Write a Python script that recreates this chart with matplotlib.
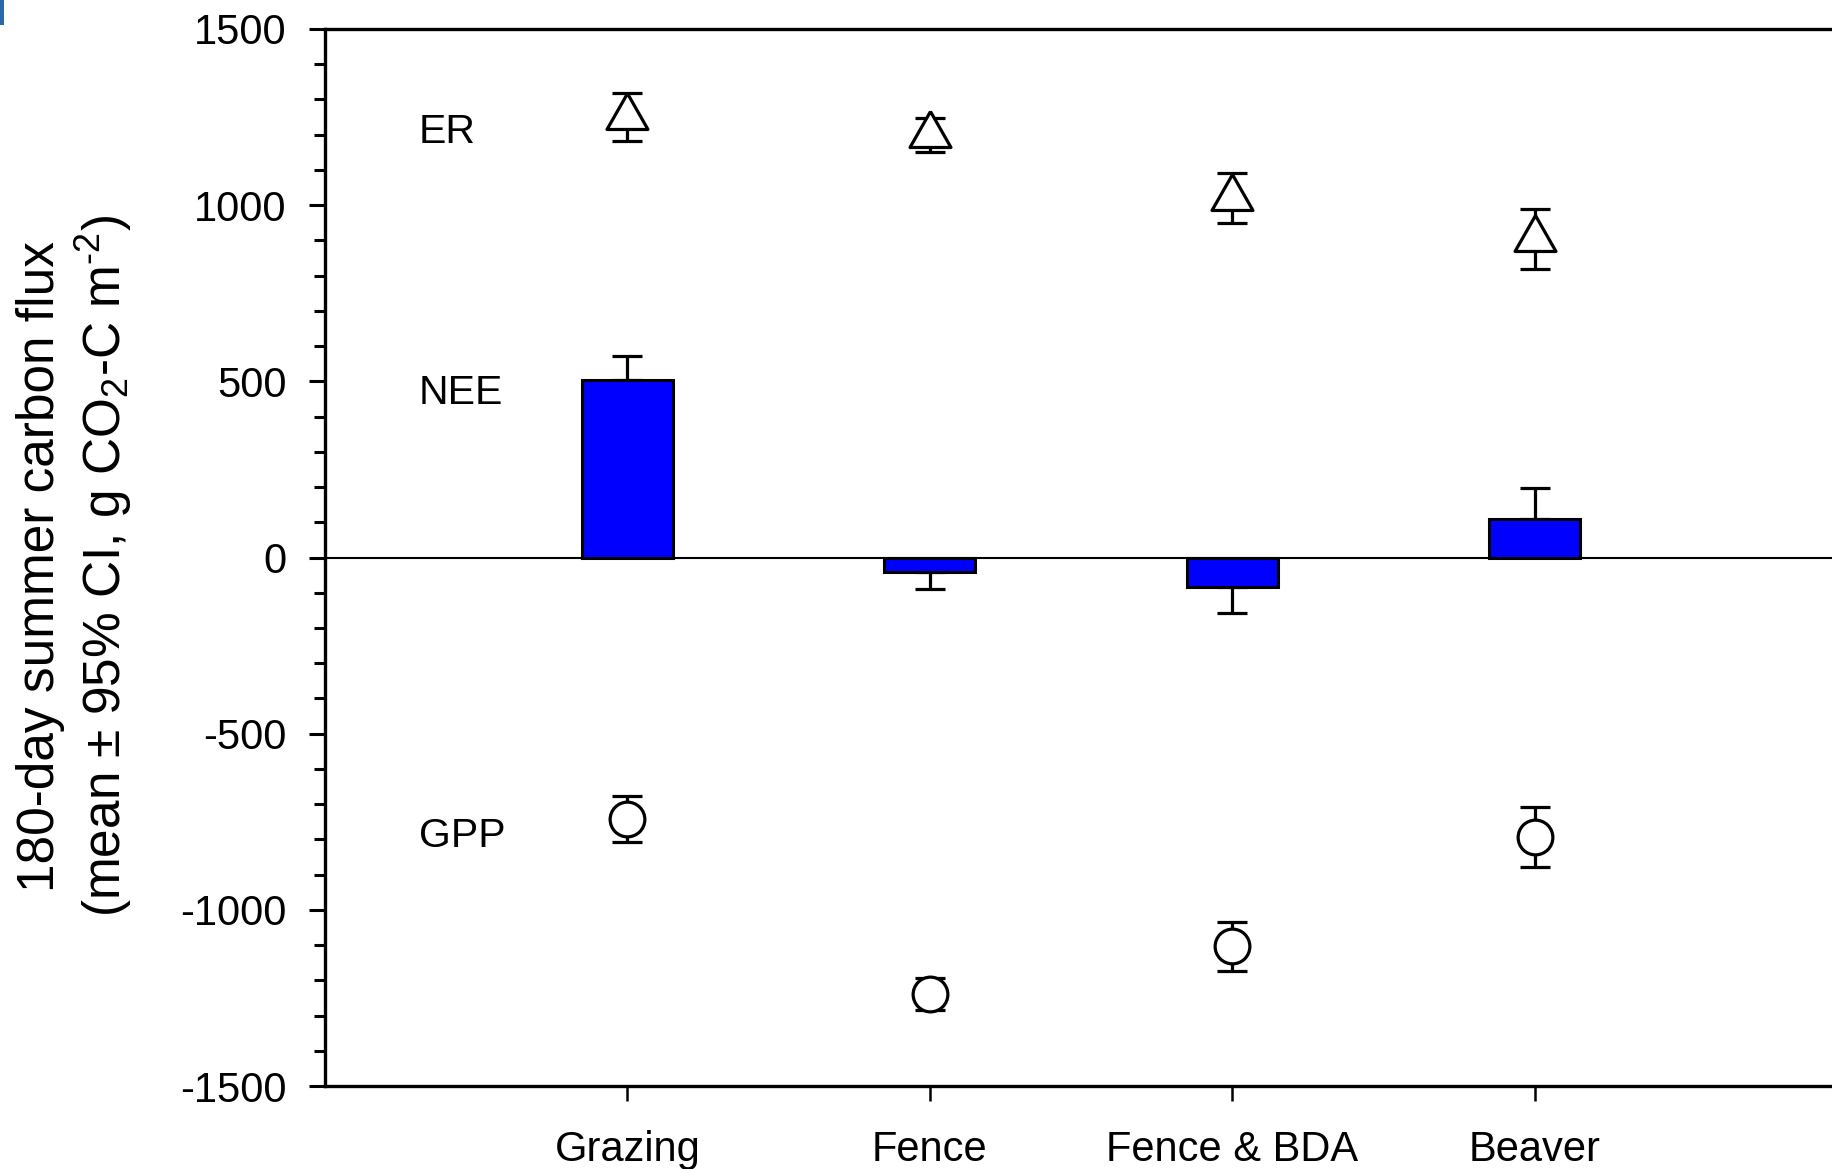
import matplotlib
matplotlib.use("Agg")
import matplotlib.pyplot as plt
from matplotlib.patches import Rectangle
import numpy as np

plt.rcParams['font.family'] = ['Liberation Sans', 'DejaVu Sans']
plt.rcParams['mathtext.fontset'] = 'custom'
plt.rcParams['mathtext.rm'] = 'Liberation Sans'
plt.rcParams['mathtext.it'] = 'Liberation Sans:italic'
plt.rcParams['axes.unicode_minus'] = False

# ---- data ----
categories = ["Grazing", "Fence", "Fence & BDA", "Beaver"]
er_mean = [1250, 1200, 1020, 905]
er_ci = [67, 48, 70, 85]
nee_mean = [505, -42, -85, 110]
nee_ci = [67, 47, 72, 86]
gpp_mean = [-742, -1238, -1104, -794]
gpp_ci = [66, 45, 70, 85]
series_labels = ["ER", "NEE", "GPP"]
series_label_y = [1176, 437, -823]
yticks = [-1500, -1000, -500, 0, 500, 1000, 1500]

W, H = 1832, 1169
fig = plt.figure(figsize=(W / 100, H / 100), dpi=100)
left, right, top, bottom = 325, 1837, 29, 1086
ax = fig.add_axes([left / W, 1 - bottom / H, (right - left) / W, (bottom - top) / H])

x = np.arange(1, len(categories) + 1)

lw = 2.3
# NEE bars
ax.bar(x, nee_mean, width=0.3, color='#0000FF', edgecolor='black', linewidth=2.2, zorder=3)
nee_lo = [0 if v >= 0 else e for v, e in zip(nee_mean, nee_ci)]
nee_hi = [e if v >= 0 else 0 for v, e in zip(nee_mean, nee_ci)]
ax.errorbar(x, nee_mean, yerr=[nee_lo, nee_hi], fmt='none', ecolor='black',
            elinewidth=lw, capsize=11, capthick=lw, zorder=2)

# zero line
ax.axhline(0, color='black', linewidth=1.5, zorder=2.5)

# ER triangles (centroid-centred)
tri = [(0, 2), (-1.71, -1), (1.71, -1), (0, 2)]
ax.errorbar(x, er_mean, yerr=er_ci, fmt='none', ecolor='black',
            elinewidth=lw, capsize=11, capthick=lw, zorder=4)
ax.plot(x, er_mean, linestyle='none', marker=tri, markersize=34.5,
        markerfacecolor='white', markeredgecolor='black', markeredgewidth=lw, zorder=5)

# GPP circles
ax.errorbar(x, gpp_mean, yerr=gpp_ci, fmt='none', ecolor='black',
            elinewidth=lw, capsize=11, capthick=lw, zorder=4)
ax.plot(x, gpp_mean, linestyle='none', marker='o', markersize=25,
        markerfacecolor='white', markeredgecolor='black', markeredgewidth=lw, zorder=5)

# series labels
for lab, yv in zip(series_labels, series_label_y):
    ax.text(0.31, yv, lab, fontsize=29.5, ha='left', va='baseline')

ax.set_xlim(0, 5)
ax.set_ylim(-1500, 1500)
ax.set_yticks(yticks)
ax.set_yticklabels([str(v) for v in yticks])
ax.set_yticks(np.arange(-1500, 1501, 100), minor=True)
ax.set_xticks(x)
ax.set_xticklabels(categories)

ax.tick_params(axis='y', which='major', direction='out', length=11.5, width=2.2,
               labelsize=30, pad=16)
ax.tick_params(axis='y', which='minor', direction='out', length=8, width=2.2)
ax.tick_params(axis='x', which='major', direction='out', length=11, width=1.8,
               labelsize=30, pad=21)
for s in ax.spines.values():
    s.set_linewidth(2.4)

fig.text(41 / W, 1 - 566 / H, "180-day summer carbon flux", rotation=90,
         ha='center', va='center', fontsize=37)
fig.text(104 / W, 1 - 566 / H, "(mean \u00b1 95% CI, g CO$_2$-C m$^{\\text{-}2}$)", rotation=90,
         ha='center', va='center', fontsize=37)

fig.patches.append(Rectangle((0, 1 - 25 / H), 4 / W, 25 / H, transform=fig.transFigure,
                             facecolor='#2a6aa8', edgecolor='none'))

fig.savefig("out.png", dpi=100)
